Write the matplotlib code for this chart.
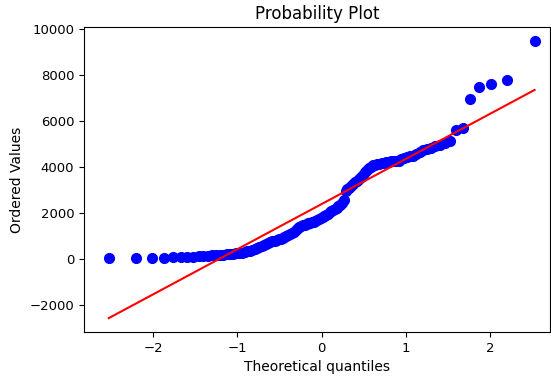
import numpy as np
import matplotlib.pyplot as plt
from statistics import NormalDist

# sorted sample (ordered values)
ordered_values = [
    30, 35, 40, 50, 60, 70, 80, 90, 100, 120,
    130, 140, 150, 165, 175, 185, 200, 215, 230, 245,
    265, 290, 320, 345, 370, 410, 450, 500, 540, 580,
    620, 670, 720, 760, 790, 820, 850, 880, 910, 960,
    1000, 1040, 1080, 1120, 1180, 1260, 1320, 1380, 1420, 1450,
    1480, 1510, 1540, 1560, 1590, 1610, 1640, 1680, 1720, 1760,
    1800, 1850, 1910, 1970, 2030, 2080, 2130, 2180, 2230, 2290,
    2360, 2440, 2560, 2950, 3020, 3090, 3170, 3250, 3330, 3400,
    3480, 3570, 3660, 3760, 3860, 3950, 4020, 4070, 4100, 4120,
    4140, 4160, 4180, 4200, 4220, 4240, 4250, 4260, 4280, 4330,
    4380, 4420, 4460, 4500, 4580, 4660, 4730, 4790, 4840, 4900,
    4970, 5040, 5150, 5600, 5680, 6980, 7480, 7640, 7790, 9500,
]

# Filliben order statistic medians -> normal quantiles
n = len(ordered_values)
m = (np.arange(1, n + 1) - 0.3175) / (n + 0.365)
m[-1] = 0.5 ** (1.0 / n)
m[0] = 1 - m[-1]
nd = NormalDist()
osm = np.array([nd.inv_cdf(p) for p in m])
osr = np.array(ordered_values, dtype=float)

slope, intercept = np.polyfit(osm, osr, 1)

plt.rcParams['font.family'] = 'DejaVu Sans'
plt.rcParams['xtick.labelsize'] = 9.5
plt.rcParams['ytick.labelsize'] = 9.5

fig = plt.figure(figsize=(5.51, 3.79), dpi=100)
ax = fig.add_axes([84 / 551, 1 - 332 / 379, 466 / 551, 305 / 379])
ax.plot(osm, osr, 'bo', markersize=7)
ax.plot(osm, slope * osm + intercept, 'r-')
ax.set_title('Probability Plot', fontsize=12)
ax.set_xlabel('Theoretical quantiles', fontsize=10)
ax.set_ylabel('Ordered Values', fontsize=10)
ax.set_xlim(-2.82, 2.71)
ax.set_yticks([-2000, 0, 2000, 4000, 6000, 8000, 10000])
fig.savefig('out.png', dpi=100)
